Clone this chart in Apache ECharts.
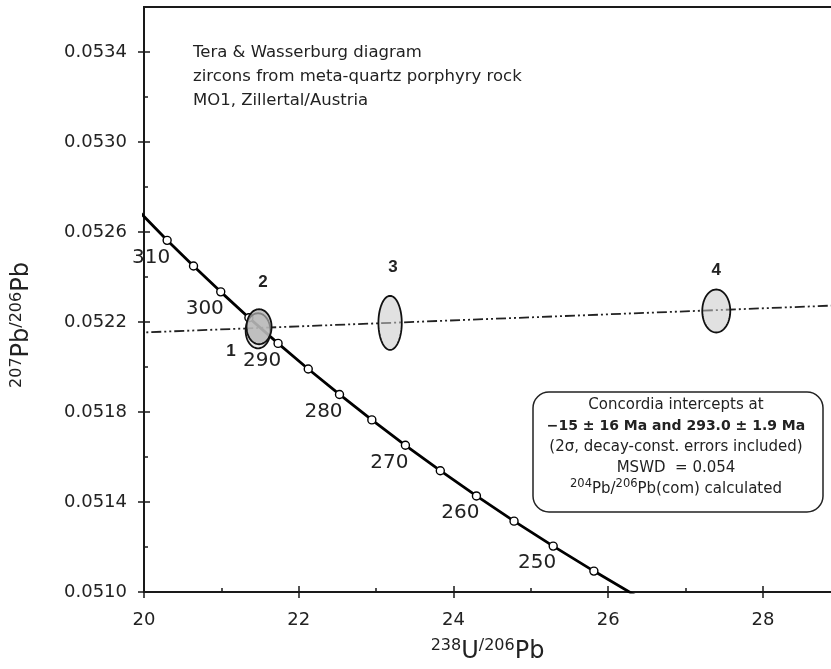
<!DOCTYPE html>
<html><head><meta charset="utf-8">
<script src="https://cdn.jsdelivr.net/npm/echarts@6/dist/echarts.min.js"></script>
<style>html,body{margin:0;padding:0;background:#fff}#c{width:831px;height:669px}</style>
</head><body><div id="c"></div>
<script>
// ---- data ----
const concAges = [320,315,310,305,300,295,290,285,280,275,270,265,260,255,250,245,240];
const concX = [19.649,19.969,20.299,20.640,20.992,21.356,21.733,22.123,22.527,22.945,23.379,23.830,24.297,24.783,25.289,25.815,26.363];
const concY = [0.052796,0.052680,0.052563,0.052449,0.052334,0.052219,0.052105,0.051991,0.051878,0.051765,0.051652,0.051539,0.051427,0.051315,0.051204,0.051093,0.050982];

const spotLabels = ['1','2','3','4'];
const spotX  = [21.474, 21.487, 23.181, 27.397];
const spotY  = [0.052161, 0.052179, 0.052196, 0.052249];
const spotSx = [0.160, 0.162, 0.151, 0.181];
const spotSy = [0.0000780, 0.0000778, 0.000120, 0.0000956];

const discX = [19.5, 29.5];
const discY = [0.052147, 0.052281];

const xMajor = [20, 22, 24, 26, 28];
const xMinor = [21, 23, 25, 27];
const yMajor = [0.0510, 0.0514, 0.0518, 0.0522, 0.0526, 0.0530, 0.0534];
const yMinor = [0.0512, 0.0516, 0.0520, 0.0524, 0.0528, 0.0532];

// ---- chart ----
const FONT = 'DejaVu Sans';
const INK = '#1a1a1a';
const chart = echarts.init(document.getElementById('c'));

const concLine = concX.map((x, i) => [x, concY[i]]);
const concMarks = concAges.map((a, i) => [concX[i], concY[i], a]).filter(d => d[0] >= 20 && d[1] >= 0.0510);
const discLine = discX.map((x, i) => [x, discY[i]]);
const spots = spotLabels.map((l, i) => [spotX[i], spotY[i], spotSx[i], spotSy[i], i]);

const spotFill = ['rgba(225,225,225,0.65)', 'rgba(174,174,174,0.73)', 'rgba(200,200,200,0.55)', 'rgba(200,200,200,0.55)'];
const spotLabelOffset = [[-27, 21], [4, -44], [3, -56], [0, -41]];

const axisLineStyle = {color: INK, width: 1.8};
const tickStyle = {color: INK, width: 1.5};
const xCommon = {type: 'value', min: 20, max: 28.88, splitLine: {show: false},
  axisLine: {show: true, onZero: false, lineStyle: axisLineStyle}};
const yCommon = {type: 'value', min: 0.0510, max: 0.0536, splitLine: {show: false},
  axisLine: {show: true, onZero: false, lineStyle: axisLineStyle}};

const option = {
  animation: false,
  backgroundColor: '#fff',
  grid: {left: 144, right: 0, top: 7, bottom: 77},
  xAxis: [
    Object.assign({}, xCommon, {position: 'bottom',
      axisTick: {show: true, inside: false, length: 6, customValues: xMajor, lineStyle: tickStyle},
      axisLabel: {show: true, customValues: xMajor, margin: 19, fontFamily: FONT, fontSize: 18, color: '#222'},
      name: '{s|238}{m|U}{s|/206}{m|Pb}', nameLocation: 'middle', nameGap: 46,
      nameTextStyle: {rich: {
        s: {fontFamily: FONT, fontSize: 16, color: '#222', verticalAlign: 'top', lineHeight: 16},
        m: {fontFamily: FONT, fontSize: 24, color: '#222', lineHeight: 27}
      }}}),
    Object.assign({}, xCommon, {position: 'bottom',
      axisTick: {show: true, inside: true, length: 6, customValues: xMajor, lineStyle: tickStyle},
      axisLabel: {show: false}}),
    Object.assign({}, xCommon, {position: 'bottom',
      axisTick: {show: true, inside: true, length: 4, customValues: xMinor, lineStyle: tickStyle},
      axisLabel: {show: false}}),
    Object.assign({}, xCommon, {position: 'top',
      axisTick: {show: false}, axisLabel: {show: false}})
  ],
  yAxis: [
    Object.assign({}, yCommon, {position: 'left',
      axisTick: {show: true, inside: false, length: 6, customValues: yMajor, lineStyle: tickStyle},
      axisLabel: {show: true, customValues: yMajor, margin: 17, fontFamily: FONT, fontSize: 18, color: '#222',
        formatter: v => Number(v).toFixed(4)}}),
    Object.assign({}, yCommon, {position: 'left',
      axisTick: {show: true, inside: true, length: 6, customValues: yMajor, lineStyle: tickStyle},
      axisLabel: {show: false}}),
    Object.assign({}, yCommon, {position: 'left',
      axisTick: {show: true, inside: true, length: 4, customValues: yMinor, lineStyle: tickStyle},
      axisLabel: {show: false}})
  ],
  series: [
    {type: 'line', name: 'discordia', data: discLine, xAxisIndex: 0, yAxisIndex: 0, clip: true,
      showSymbol: false, z: 2, silent: true,
      lineStyle: {color: '#222', width: 1.8, type: [10, 3, 2, 3, 2, 3]}},
    {type: 'line', name: 'concordia', data: concLine, xAxisIndex: 0, yAxisIndex: 0, clip: true,
      showSymbol: false, z: 3, silent: true,
      lineStyle: {color: '#000', width: 2.8}},
    {type: 'scatter', name: 'ages', data: concMarks, xAxisIndex: 0, yAxisIndex: 0, z: 4, silent: true,
      symbol: 'circle', symbolSize: 8,
      itemStyle: {color: '#fff', borderColor: '#000', borderWidth: 1.4, opacity: 1},
      label: {show: true, position: 'inside', offset: [-16, 17], fontFamily: FONT, fontSize: 20, color: '#222',
        formatter: p => (p.data[2] % 10 === 0 ? String(p.data[2]) : '')}},
    {type: 'custom', name: 'spots', data: spots, xAxisIndex: 0, yAxisIndex: 0, z: 5, silent: true,
      renderItem: function (params, api) {
        const cx = api.value(0), cy = api.value(1), sx = api.value(2), sy = api.value(3);
        const idx = params.dataIndex;
        const pts = [];
        for (let k = 0; k < 72; k++) {
          const t = k / 72 * Math.PI * 2;
          pts.push(api.coord([cx + sx * Math.cos(t), cy + sy * Math.sin(t)]));
        }
        const c = api.coord([cx, cy]);
        const off = spotLabelOffset[idx];
        return {type: 'group', children: [
          {type: 'polygon', shape: {points: pts},
            style: {fill: spotFill[idx], stroke: '#111', lineWidth: 1.8}},
          {type: 'text', x: c[0] + off[0], y: c[1] + off[1],
            style: {text: spotLabels[idx], fontFamily: 'Liberation Sans', fontWeight: 'bold', fontSize: 17,
              fill: '#222', align: 'center', verticalAlign: 'middle'}}
        ]};
      }}
  ],
  graphic: [
    {type: 'text', x: 193, y: 76.5, z: 10,
      style: {text: 'Tera & Wasserburg diagram\nzircons from meta-quartz porphyry rock\nMO1, Zillertal/Austria',
        fontFamily: FONT, fontSize: 16.5, lineHeight: 24, fill: '#222', align: 'left', verticalAlign: 'middle'}},
    {type: 'text', x: 22, y: 325, rotation: Math.PI / 2, z: 10,
      style: {text: '{s|207}{m|Pb}{s|/206}{m|Pb}', align: 'center', verticalAlign: 'middle',
        rich: {
          s: {fontFamily: FONT, fontSize: 16, fill: '#222', verticalAlign: 'top', lineHeight: 16},
          m: {fontFamily: FONT, fontSize: 24, fill: '#222', lineHeight: 27}
        }}},
    {type: 'rect', z: 10, shape: {x: 533, y: 392, width: 290, height: 120, r: 16},
      style: {fill: '#fff', stroke: '#222', lineWidth: 1.5}},
    {type: 'text', x: 676, y: 447, z: 11,
      style: {text: 'Concordia intercepts at\n{b|\u221215 \u00b1 16 Ma and 293.0 \u00b1 1.9 Ma}\n(2\u03c3, decay-const. errors included)\nMSWD  = 0.054\n{s|204}Pb/{s|206}Pb(com) calculated',
        fontFamily: FONT, fontSize: 15, lineHeight: 21, fill: '#222', align: 'center', verticalAlign: 'middle',
        rich: {
          b: {fontFamily: FONT, fontSize: 14, fontWeight: 'bold', fill: '#222', lineHeight: 21},
          s: {fontFamily: FONT, fontSize: 11.5, fill: '#222', verticalAlign: 'top', lineHeight: 13}
        }}}
  ]
};
chart.setOption(option);
</script>
</body></html>
